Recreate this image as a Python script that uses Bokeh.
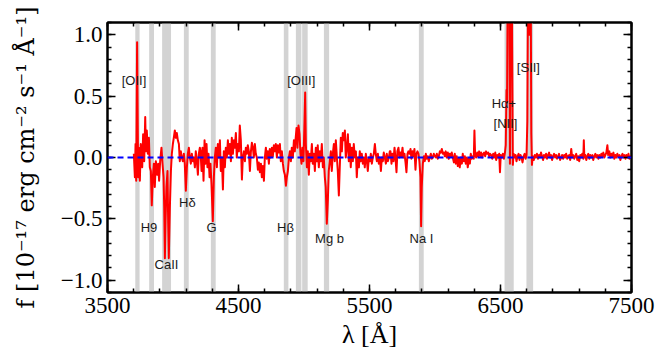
from bokeh.plotting import figure
from bokeh.models import Range1d, LinearAxis, FixedTicker, CustomJSTickFormatter, Span, ColumnDataSource
from bokeh.core.properties import value
from bokeh.embed import file_html
from bokeh.resources import INLINE

# ---- spectrum, split into wavelength segments ----
wave_a = [3701, 3709, 3714, 3719, 3726, 3734, 3739, 3747, 3754, 3765,
          3772, 3780, 3788, 3793, 3800, 3808, 3816, 3823, 3831, 3838,
          3846, 3854, 3861, 3869, 3879, 3887, 3894, 3902, 3912, 3920,
          3928, 3933, 3938, 3943, 3950, 3958, 3963, 3968, 3976, 3984,
          3991, 3999, 4006, 4014, 4022, 4029, 4037, 4045, 4052, 4060,
          4067, 4075, 4083, 4090, 4098, 4106, 4113, 4121, 4129, 4136,
          4144, 4152, 4159, 4167, 4174, 4182, 4190, 4197, 4205]
flux_a = [0.03, -0.16, 0.11, -0.19, 0.94, -0.16, 0.08, -0.19, 0.11, -0.08,
          0.19, -0.03, 0.33, 0.05, 0.22, 0.03, 0.16, -0.08, -0.11, -0.39,
          -0.16, -0.05, -0.24, -0.03, -0.14, -0.05, -0.19, -0.03, 0.08, -0.05,
          -0.16, -0.41, -0.82, -0.52, -0.24, -0.11, -0.52, -0.82, -0.41, -0.11,
          0.03, 0.11, 0.16, 0.22, 0.16, 0.20, 0.14, 0.11, -0.03, 0.05,
          0.00, -0.03, 0.03, -0.05, -0.27, -0.08, 0.03, 0.08, 0.00, -0.05,
          0.03, -0.03, 0.00, -0.08, 0.05, -0.03, -0.14, 0.03, 0.08]

wave_b = [4210, 4218, 4225, 4233, 4241, 4248, 4256, 4263, 4271, 4279,
          4286, 4294, 4304, 4312, 4319, 4327, 4335, 4342, 4350, 4358,
          4365, 4373, 4381, 4388, 4396, 4403, 4411, 4419, 4426, 4434,
          4442, 4449, 4457, 4465, 4472, 4480, 4487, 4495, 4503, 4510,
          4518, 4526, 4533, 4541, 4549, 4556, 4564, 4571, 4579, 4587,
          4594, 4602, 4610, 4617, 4625, 4632, 4640, 4648, 4655, 4663,
          4671, 4678, 4686, 4694, 4701, 4709, 4716, 4724, 4732, 4739,
          4747, 4755, 4762, 4770, 4778, 4785, 4793, 4800, 4808, 4816,
          4823, 4831, 4839, 4846, 4854, 4862, 4869, 4877, 4885, 4892,
          4900, 4907, 4915, 4923, 4930]
flux_b = [0.05, -0.11, 0.08, -0.19, 0.14, -0.05, 0.11, -0.08, 0.03, -0.16,
          -0.05, -0.22, -0.52, -0.16, 0.00, 0.08, -0.08, 0.11, 0.00, 0.14,
          -0.11, 0.00, -0.26, 0.05, -0.08, 0.08, 0.00, 0.14, 0.03, 0.11,
          -0.03, 0.16, 0.03, 0.14, 0.08, 0.20, 0.00, 0.11, 0.05, 0.26,
          0.14, -0.18, 0.00, 0.05, -0.03, 0.08, 0.03, 0.10, 0.05, -0.11,
          0.04, 0.12, 0.08, 0.00, 0.11, 0.03, 0.00, -0.10, -0.04, -0.12,
          -0.05, -0.16, -0.07, -0.19, 0.00, 0.08, -0.01, 0.05, -0.05, 0.07,
          0.00, 0.08, 0.01, 0.10, 0.05, 0.11, 0.00, 0.10, 0.04, 0.11,
          -0.03, 0.05, -0.05, -0.11, -0.14, -0.23, -0.16, -0.11, 0.00, 0.05,
          -0.03, 0.08, 0.00, 0.14, 0.05]

wave_c = [4935, 4943, 4950, 4958, 4966, 4973, 4981, 4988, 4996, 5004,
          5009, 5014, 5022, 5029, 5037, 5044, 5052, 5060, 5067, 5075,
          5083, 5090, 5098, 5105, 5113, 5121, 5128, 5136, 5144, 5151,
          5159, 5166, 5174, 5182, 5189, 5197, 5205, 5212, 5220, 5228,
          5235, 5243, 5251, 5258, 5266, 5273, 5281, 5289, 5296, 5304,
          5312, 5319, 5327, 5335, 5342, 5350, 5357, 5365, 5373, 5380,
          5388, 5396, 5403, 5411, 5419, 5426, 5434, 5441, 5449, 5457,
          5464, 5472, 5480, 5487, 5495, 5503, 5510, 5518, 5525, 5533,
          5541, 5548, 5556, 5564, 5571, 5579, 5587, 5594, 5602, 5609,
          5617, 5625, 5632, 5640, 5648, 5655]
flux_c = [0.14, 0.24, 0.08, 0.26, 0.19, 0.03, -0.05, 0.08, -0.03, 0.30,
          0.53, 0.11, -0.08, 0.05, -0.14, 0.03, -0.03, 0.11, -0.05, 0.03,
          -0.11, 0.08, -0.03, 0.10, -0.08, 0.05, -0.03, 0.11, -0.08, 0.00,
          -0.16, -0.24, -0.54, -0.35, -0.11, -0.03, 0.05, -0.11, 0.03, 0.11,
          -0.03, 0.14, 0.00, -0.11, -0.31, -0.08, 0.16, 0.05, 0.20, 0.14,
          0.22, 0.00, 0.08, 0.19, -0.03, 0.11, -0.08, 0.08, -0.03, 0.11,
          0.00, 0.05, -0.16, 0.00, -0.08, 0.05, -0.03, 0.03, -0.05, 0.00,
          -0.08, 0.03, -0.03, -0.11, 0.00, -0.03, 0.03, -0.05, 0.00, 0.03,
          0.11, 0.03, -0.03, 0.03, -0.05, 0.00, -0.11, 0.00, -0.03, 0.04,
          0.00, -0.05, 0.03, -0.03, 0.00, 0.05]

wave_d = [5660, 5668, 5675, 5683, 5691, 5698, 5706, 5713, 5721, 5729,
          5736, 5744, 5752, 5759, 5767, 5775, 5782, 5790, 5797, 5805,
          5813, 5820, 5828, 5836, 5843, 5851, 5858, 5866, 5874, 5881,
          5889, 5894, 5899, 5907, 5915, 5922, 5930, 5937, 5945, 5953,
          5960, 5968, 5976, 5983, 5991, 5999, 6006, 6014, 6021, 6029,
          6037, 6044, 6052, 6060, 6067, 6075, 6082, 6090, 6098, 6105,
          6113, 6121, 6128, 6136, 6144, 6151, 6159, 6166, 6174, 6182,
          6189, 6197, 6205, 6212, 6220, 6228, 6235, 6243, 6250, 6258,
          6266, 6273, 6281, 6289, 6296, 6301, 6306, 6314, 6322, 6329,
          6337, 6345, 6352, 6360, 6368, 6375, 6383, 6390, 6398, 6406,
          6413, 6421]
flux_d = [0.05, -0.05, 0.03, -0.03, 0.08, 0.00, -0.12, 0.05, 0.08, 0.00,
          0.04, 0.01, 0.08, 0.00, 0.03, -0.04, -0.12, 0.03, 0.05, 0.03,
          0.07, -0.01, 0.05, 0.01, 0.07, -0.10, 0.03, 0.05, 0.03, -0.03,
          -0.16, -0.56, -0.24, -0.05, 0.01, -0.03, 0.03, -0.01, 0.01, -0.03,
          0.00, 0.03, -0.01, 0.00, 0.03, 0.01, 0.00, 0.03, -0.01, 0.01,
          0.05, 0.04, 0.07, 0.03, 0.04, 0.01, 0.05, 0.00, 0.04, -0.01,
          0.03, 0.01, 0.04, 0.00, -0.04, 0.03, -0.05, 0.01, -0.07, -0.01,
          -0.08, 0.00, -0.05, 0.03, -0.03, 0.01, -0.05, 0.00, -0.08, -0.01,
          -0.05, 0.03, -0.01, 0.01, -0.01, 0.22, 0.03, 0.00, 0.04, 0.01,
          0.05, 0.01, 0.04, 0.00, 0.03, 0.04, 0.01, 0.05, 0.03, 0.04,
          0.01, 0.03]

wave_e = [6429, 6437, 6444, 6452, 6460, 6467, 6475, 6482, 6490, 6496,
          6502, 6510, 6518, 6526, 6534, 6540, 6546, 6550, 6556, 6563,
          6568, 6572, 6577, 6583, 6589, 6594, 6600, 6608, 6615, 6622,
          6630, 6638, 6645, 6653, 6661, 6668, 6676, 6684, 6692, 6699,
          6705, 6711, 6716, 6720, 6725, 6730, 6735, 6740, 6746, 6754,
          6762, 6770, 6778, 6786, 6794, 6801, 6809, 6817, 6825, 6832,
          6840, 6848, 6855, 6863, 6871, 6878, 6886, 6894, 6901, 6909,
          6917, 6924, 6932, 6940, 6947, 6955, 6963, 6970, 6978, 6986,
          6993, 7001, 7009, 7016, 7024, 7032, 7040, 7047, 7055, 7063,
          7070, 7078, 7086, 7093, 7101, 7109, 7116, 7124, 7132, 7136,
          7140, 7147, 7155, 7162, 7170, 7178, 7185, 7193, 7201, 7208,
          7216, 7224, 7231, 7239, 7247, 7254, 7262, 7270, 7277, 7285,
          7293, 7300, 7308, 7316, 7322, 7331, 7339, 7346, 7354, 7362,
          7369, 7377, 7385, 7392, 7400, 7408, 7415, 7423, 7431, 7438,
          7446, 7454, 7461, 7469, 7477, 7484, 7492, 7500]
flux_e = [0.02, -0.01, 0.03, 0.00, 0.04, -0.02, 0.02, 0.00, 0.03, -0.12,
          0.02, 0.00, 0.03, -0.01, 0.04, 0.10, 0.55, 0.45, 1.60, 3.00,
          1.40, -0.05, 1.20, 2.20, 0.90, -0.06, 0.03, 0.00, 0.02, -0.03,
          0.01, 0.03, -0.02, 0.02, 0.00, -0.04, 0.01, 0.03, -0.01, 0.02,
          0.30, 1.60, 2.00, 1.00, 1.40, 1.60, 0.20, -0.06, 0.01, -0.02,
          0.02, 0.00, 0.03, -0.01, 0.02, 0.00, 0.04, 0.01, -0.02, 0.02,
          0.00, 0.03, -0.01, 0.02, 0.04, 0.00, 0.02, -0.02, 0.01, 0.03,
          0.00, 0.02, -0.01, 0.01, 0.03, -0.02, 0.00, 0.02, -0.01, 0.02,
          0.00, 0.03, -0.01, 0.01, 0.02, -0.02, 0.07, 0.00, 0.02, -0.01,
          0.01, 0.03, -0.02, 0.01, -0.03, 0.02, 0.00, 0.03, -0.01, 0.14,
          0.00, 0.02, -0.02, 0.01, 0.03, -0.01, 0.02, 0.00, 0.02, -0.02,
          0.01, 0.03, 0.00, 0.02, -0.01, 0.02, 0.00, 0.03, 0.01, 0.04,
          0.00, 0.02, 0.04, 0.10, 0.02, 0.05, 0.00, 0.03, 0.01, 0.04,
          -0.01, 0.02, 0.00, 0.03, 0.01, 0.02, -0.02, 0.01, 0.03, 0.00,
          0.02, -0.01, 0.02, 0.00, 0.03, -0.01, 0.01, -0.01]

wavelength = wave_a + wave_b + wave_c + wave_d + wave_e
flux = flux_a + flux_b + flux_c + flux_d + flux_e
assert len(wavelength) == len(flux)

# ---- masked line windows (grey bands) ----
band_lo = [3712, 3818, 3917, 4083, 4289, 4846, 4938, 4986, 5152, 5877, 6531, 6698]
band_hi = [3745, 3855, 3985, 4120, 4326, 4881, 4980, 5028, 5192, 5914, 6601, 6749]

# ---- line labels ----
label_text = ["[OII]", "H9", "CaII", "Hδ", "G", "Hβ", "[OIII]", "Mg b", "Na I", "Hα+", "[NII]", "[SII]"]
label_wave = [3702, 3817, 3950, 4110, 4294, 4859, 4979, 5195, 5897, 6526, 6538, 6713]
label_flux = [0.63, -0.57, -0.87, -0.37, -0.57, -0.57, 0.63, -0.66, -0.66, 0.44, 0.28, 0.73]

# ---- axes ----
x_lim = (3500, 7500)
y_lim = (-1.1, 1.1)
x_major = [3500, 4500, 5500, 6500, 7500]
x_minor = list(range(3500, 7501, 200))
y_major = [-1.0, -0.5, 0.0, 0.5, 1.0]
y_minor = [round(-1.1 + 0.1 * i, 1) for i in range(23)]
baseline = 0.0

SERIF = "Liberation Serif"
SANS = "Liberation Sans"

p = figure(width=664, height=364, x_range=Range1d(*x_lim), y_range=Range1d(*y_lim),
           output_backend="svg", toolbar_location=None,
           min_border_left=107, min_border_right=33, min_border_top=22, min_border_bottom=72)
p.grid.visible = False
p.outline_line_color = "black"
p.outline_line_width = 2
p.background_fill_color = "white"
p.border_fill_color = "white"

band_src = ColumnDataSource(dict(left=band_lo, right=band_hi,
                                 bottom=[y_lim[0]] * len(band_lo), top=[y_lim[1]] * len(band_lo)))
p.quad(left="left", right="right", bottom="bottom", top="top", source=band_src,
       fill_color="#d3d3d3", line_color=None)

p.line(wavelength, flux, line_color="#ff0000", line_width=2, line_join="round")

p.add_layout(Span(location=baseline, dimension="width", line_color="#0000ff",
                  line_width=2, line_dash="6 4"))

p.text(x=label_wave, y=label_flux, text=label_text, text_font=value(SANS),
       text_font_size="13px", text_align="center", text_baseline="middle",
       text_color="#1a1a1a")

xt = FixedTicker(ticks=x_major, minor_ticks=x_minor)
yt = FixedTicker(ticks=y_major, minor_ticks=y_minor)
yfmt = CustomJSTickFormatter(code="return tick.toFixed(1).replace('-', '\u2212');")
blank = CustomJSTickFormatter(code="return '';")

bottom_ax = p.below[0]
left_ax = p.left[0]
bottom_ax.ticker = xt
left_ax.ticker = yt
left_ax.formatter = yfmt
bottom_ax.axis_label = "λ [Å]"
left_ax.axis_label = "f [10⁻¹⁷ erg cm⁻² s⁻¹ Å⁻¹]"

top_ax = LinearAxis(ticker=xt, formatter=blank)
right_ax = LinearAxis(ticker=yt, formatter=blank)
p.add_layout(top_ax, "above")
p.add_layout(right_ax, "right")

for ax in [bottom_ax, left_ax, top_ax, right_ax]:
    ax.major_tick_in = 8
    ax.major_tick_out = 0
    ax.minor_tick_in = 4
    ax.minor_tick_out = 0
    ax.major_tick_line_width = 1.5
    ax.minor_tick_line_width = 1.5
    ax.major_tick_line_color = "black"
    ax.minor_tick_line_color = "black"
    ax.axis_line_width = 2
    ax.axis_line_color = "black"
    ax.major_label_text_font = SERIF
    ax.major_label_text_font_size = "23px"
    ax.major_label_text_color = "black"
    ax.axis_label_text_font = SERIF
    ax.axis_label_text_font_size = "26px"
    ax.axis_label_text_font_style = "normal"
    ax.axis_label_text_color = "black"
    ax.major_label_standoff = 5

for ax in [top_ax, right_ax]:
    ax.major_label_text_font_size = "1px"
    ax.major_label_standoff = 0

left_ax.axis_label_text_font = "DejaVu Serif"
left_ax.axis_label_text_font_size = "24px"
bottom_ax.axis_label_standoff = 4
left_ax.axis_label_standoff = 18

open("out.html", "w").write(file_html(p, INLINE))
